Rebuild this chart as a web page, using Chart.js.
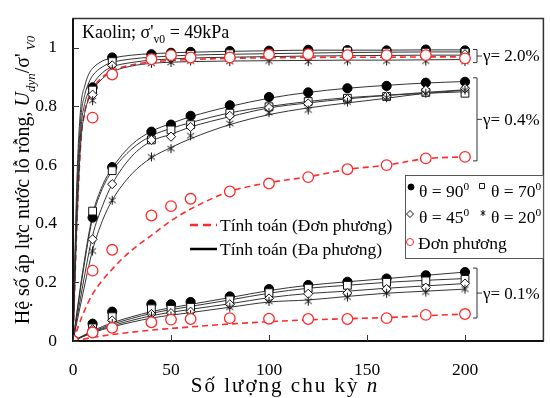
<!DOCTYPE html>
<html>
<head>
<meta charset="utf-8">
<script src="https://cdn.jsdelivr.net/npm/chart.js@4.4.1/dist/chart.umd.min.js"></script>
<style>
  html, body { margin: 0; padding: 0; background: #fff; }
  #wrap { width: 550px; height: 398px; }
</style>
</head>
<body>
<div id="wrap"><canvas id="chart"></canvas></div>
<script>
const serif = '"Liberation Serif", "Times New Roman", serif';
const cred = "#ff2a2a";
const cline = "#333333";

// measured points (number of cycles)
const cycles = [0, 10, 20, 40, 50, 60, 80, 100, 120, 140, 160, 180, 200];

// gamma = 2.0%
const g20_t90 = [0, 0.865, 0.967, 0.978, 0.983, 0.986, 0.989, 0.990, 0.993, 0.992, 0.991, 0.994, 0.991];
const g20_t70 = [0, 0.856, 0.953, 0.967, 0.975, 0.978, 0.980, 0.982, 0.983, 0.989, 0.985, 0.985, 0.984];
const g20_t45 = [0, 0.840, 0.940, 0.958, 0.965, 0.968, 0.970, 0.972, 0.973, 0.975, 0.975, 0.976, 0.978];
const g20_t20 = [0, 0.820, 0.928, 0.947, 0.950, 0.955, 0.953, 0.955, 0.953, 0.955, 0.955, 0.955, 0.953];
const g20_uni = [0, 0.762, 0.909, 0.961, 0.975, 0.967, 0.967, 0.977, 0.978, 0.975, 0.975, 0.975, 0.964];

// gamma = 0.4%
const g04_t90 = [0, 0.421, 0.593, 0.714, 0.738, 0.768, 0.804, 0.832, 0.848, 0.862, 0.870, 0.881, 0.884];
const g04_t70 = [0, 0.443, 0.581, 0.686, 0.720, 0.738, 0.777, 0.799, 0.817, 0.828, 0.834, 0.848, 0.845];
const g04_t45 = [0, 0.347, 0.535, 0.686, 0.697, 0.730, 0.768, 0.795, 0.810, 0.825, 0.835, 0.856, 0.862];
const g04_t20 = [0, 0.307, 0.480, 0.628, 0.656, 0.700, 0.742, 0.779, 0.788, 0.815, 0.830, 0.845, 0.856];
const g04_uni = [0, 0.240, 0.311, 0.428, 0.460, 0.485, 0.510, 0.537, 0.559, 0.586, 0.600, 0.623, 0.628];

// gamma = 0.1%
const g01_t90 = [0, 0.059, 0.100, 0.125, 0.125, 0.133, 0.152, 0.177, 0.191, 0.202, 0.213, 0.224, 0.235];
const g01_t70 = [0, 0.045, 0.083, 0.110, 0.108, 0.115, 0.140, 0.165, 0.180, 0.190, 0.200, 0.205, 0.210];
const g01_t45 = [0, 0.040, 0.070, 0.092, 0.095, 0.100, 0.125, 0.145, 0.161, 0.163, 0.177, 0.182, 0.196];
const g01_t20 = [0, 0.035, 0.060, 0.085, 0.085, 0.090, 0.115, 0.135, 0.136, 0.150, 0.163, 0.167, 0.177];
const g01_uni = [0, 0.029, 0.045, 0.064, 0.073, 0.075, 0.078, 0.076, 0.075, 0.075, 0.078, 0.089, 0.092];

// calculated curves
const calc20_n = [0, 2, 4, 6, 8, 10, 15, 20, 30, 40, 50, 60, 80, 100, 120, 140, 160, 180, 200];
const calc20_t90 = [0, 0.55, 0.80, 0.87, 0.91, 0.93, 0.955, 0.965, 0.975, 0.980, 0.983, 0.985, 0.988, 0.990, 0.992, 0.992, 0.992, 0.993, 0.993];
const calc20_t70 = [0, 0.50, 0.76, 0.84, 0.88, 0.905, 0.935, 0.950, 0.962, 0.968, 0.972, 0.975, 0.978, 0.980, 0.982, 0.984, 0.985, 0.986, 0.986];
const calc20_t45 = [0, 0.45, 0.72, 0.81, 0.85, 0.875, 0.915, 0.935, 0.950, 0.958, 0.962, 0.965, 0.968, 0.970, 0.972, 0.973, 0.974, 0.975, 0.975];
const calc20_t20 = [0, 0.40, 0.68, 0.78, 0.825, 0.855, 0.895, 0.918, 0.938, 0.947, 0.951, 0.953, 0.955, 0.956, 0.957, 0.958, 0.958, 0.959, 0.960];
const calc20_uni = [0, 0.40, 0.68, 0.78, 0.83, 0.86, 0.90, 0.922, 0.942, 0.952, 0.957, 0.960, 0.964, 0.966, 0.967, 0.968, 0.968, 0.969, 0.969];

const calc04_n = [0, 5, 10, 15, 20, 30, 40, 50, 60, 80, 100, 120, 140, 160, 180, 200];
const calc04_t90 = [0, 0.24, 0.43, 0.53, 0.59, 0.67, 0.715, 0.742, 0.765, 0.800, 0.828, 0.848, 0.862, 0.872, 0.880, 0.885];
const calc04_t70 = [0, 0.23, 0.42, 0.52, 0.58, 0.655, 0.700, 0.725, 0.745, 0.778, 0.800, 0.817, 0.830, 0.838, 0.845, 0.850];
const calc04_t45 = [0, 0.19, 0.36, 0.46, 0.535, 0.630, 0.682, 0.705, 0.730, 0.765, 0.795, 0.812, 0.826, 0.838, 0.848, 0.857];
const calc04_t20 = [0, 0.16, 0.31, 0.41, 0.48, 0.570, 0.625, 0.660, 0.690, 0.738, 0.772, 0.795, 0.812, 0.828, 0.845, 0.855];
const calc04_uni_n = [0, 5, 10, 20, 30, 40, 50, 60, 80, 100, 120, 140, 160, 180, 200];
const calc04_uni = [0, 0.09, 0.16, 0.245, 0.31, 0.36, 0.41, 0.45, 0.51, 0.54, 0.56, 0.585, 0.60, 0.622, 0.628];

const calc01_n = [0, 10, 20, 40, 60, 80, 100, 120, 140, 160, 180, 200];
const calc01_t90 = [0, 0.035, 0.062, 0.100, 0.125, 0.148, 0.172, 0.190, 0.202, 0.213, 0.224, 0.235];
const calc01_t70 = [0, 0.032, 0.057, 0.094, 0.118, 0.140, 0.163, 0.180, 0.190, 0.200, 0.207, 0.213];
const calc01_t45 = [0, 0.030, 0.052, 0.086, 0.108, 0.127, 0.148, 0.162, 0.170, 0.180, 0.188, 0.196];
const calc01_t20 = [0, 0.028, 0.048, 0.078, 0.097, 0.115, 0.133, 0.140, 0.152, 0.163, 0.170, 0.177];
const calc01_uni = [0, 0.012, 0.022, 0.037, 0.048, 0.058, 0.066, 0.072, 0.076, 0.080, 0.086, 0.092];

const xTicks = [0, 50, 100, 150, 200];
const yTicks = [0, 0.2, 0.4, 0.6, 0.8, 1];
const yTickLabels = ["0", "0.2", "0.4", "0.6", "0.8", "1"];
const gammaLabels = ["γ= 2.0%", "γ= 0.4%", "γ= 0.1%"];

function pts(xs, ys) {
  return xs.map((x, i) => ({ x: x, y: ys[i] }));
}

// three-stroke asterisk used for theta = 20
function asterisk(size) {
  const c = document.createElement("canvas");
  c.width = size; c.height = size;
  const g = c.getContext("2d");
  const h = size / 2, r = size / 2 - 1;
  g.strokeStyle = "#111";
  g.lineWidth = 1;
  g.beginPath();
  g.moveTo(h - r * 0.8, h - r * 0.6); g.lineTo(h + r * 0.8, h + r * 0.6);
  g.moveTo(h - r * 0.8, h + r * 0.6); g.lineTo(h + r * 0.8, h - r * 0.6);
  g.moveTo(h, h - r); g.lineTo(h, h + r);
  g.stroke();
  return c;
}
const starBig = asterisk(11);
const starSmall = asterisk(8);

const markerStyles = {
  t90: { pointStyle: "circle", pointRadius: 4.6, pointBackgroundColor: "#000", pointBorderColor: "#000", pointBorderWidth: 1 },
  t70: { pointStyle: "rect", pointRadius: 5.5, pointBackgroundColor: "#fff", pointBorderColor: "#111", pointBorderWidth: 1 },
  t45: { pointStyle: "rectRot", pointRadius: 4.6, pointBackgroundColor: "#fff", pointBorderColor: "#111", pointBorderWidth: 1 },
  t20: { pointStyle: starBig, pointRadius: 5, pointBackgroundColor: "#fff", pointBorderColor: "#111", pointBorderWidth: 1 },
  uni: { pointStyle: "circle", pointRadius: 5.3, pointBackgroundColor: "#fff", pointBorderColor: cred, pointBorderWidth: 1.3 },
};

function markers(ys, style) {
  return Object.assign({ data: pts(cycles, ys), showLine: false, order: 0 }, markerStyles[style]);
}

function curve(xs, ys, dashed) {
  return {
    data: pts(xs, ys),
    borderColor: dashed ? cred : cline,
    borderWidth: dashed ? 1.6 : 1,
    borderDash: dashed ? [6, 4] : [],
    pointRadius: 0,
    cubicInterpolationMode: "monotone",
    order: 1,
  };
}

const datasets = [
  curve(calc20_n, calc20_t90), curve(calc20_n, calc20_t70), curve(calc20_n, calc20_t45), curve(calc20_n, calc20_t20),
  curve(calc20_n, calc20_uni, true),
  curve(calc04_n, calc04_t90), curve(calc04_n, calc04_t70), curve(calc04_n, calc04_t45), curve(calc04_n, calc04_t20),
  curve(calc04_uni_n, calc04_uni, true),
  curve(calc01_n, calc01_t90), curve(calc01_n, calc01_t70), curve(calc01_n, calc01_t45), curve(calc01_n, calc01_t20),
  curve(calc01_n, calc01_uni, true),
  markers(g20_uni, "uni"), markers(g04_uni, "uni"), markers(g01_uni, "uni"),
  markers(g20_t20, "t20"), markers(g04_t20, "t20"), markers(g01_t20, "t20"),
  markers(g20_t45, "t45"), markers(g04_t45, "t45"), markers(g01_t45, "t45"),
  markers(g20_t70, "t70"), markers(g04_t70, "t70"), markers(g01_t70, "t70"),
  markers(g20_t90, "t90"), markers(g04_t90, "t90"), markers(g01_t90, "t90"),
];

// draws a run of text pieces, some italic / subscript / superscript
function richText(ctx, parts, x, y, size) {
  let cx = x;
  parts.forEach(p => {
    const s = (p.sub || p.sup) ? size * 0.65 : size;
    ctx.font = (p.italic ? "italic " : "") + s + "px " + serif;
    const dy = p.sub ? size * 0.28 : (p.sup ? -size * 0.38 : 0);
    ctx.fillText(p.t, cx, y + dy);
    cx += ctx.measureText(p.t).width;
  });
  return cx - x;
}

function richWidth(ctx, parts, size) {
  let w = 0;
  parts.forEach(p => {
    const s = (p.sub || p.sup) ? size * 0.65 : size;
    ctx.font = (p.italic ? "italic " : "") + s + "px " + serif;
    w += ctx.measureText(p.t).width;
  });
  return w;
}

const decorations = {
  id: "decorations",
  afterDraw(chart) {
    const ctx = chart.ctx;
    const a = chart.chartArea;
    const xs = chart.scales.x, ys = chart.scales.y;
    ctx.save();

    // frame
    ctx.strokeStyle = "#333";
    ctx.lineWidth = 1.5;
    ctx.strokeRect(a.left, a.top, a.right - a.left, a.bottom - a.top);
    ctx.lineWidth = 2;
    ctx.strokeStyle = "#111";
    ctx.beginPath();
    ctx.moveTo(a.left, a.top); ctx.lineTo(a.left, a.bottom); ctx.lineTo(a.right, a.bottom);
    ctx.stroke();

    // inward tick marks
    ctx.lineWidth = 1;
    ctx.strokeStyle = "#333";
    ctx.beginPath();
    yTicks.forEach(v => { const p = Math.round(ys.getPixelForValue(v)) + 0.5; ctx.moveTo(a.left, p); ctx.lineTo(a.left + 6, p); });
    xTicks.forEach(v => { const p = Math.round(xs.getPixelForValue(v)) + 0.5; ctx.moveTo(p, a.bottom); ctx.lineTo(p, a.bottom - 6); });
    ctx.stroke();

    ctx.fillStyle = "#000";
    ctx.textBaseline = "alphabetic";
    ctx.textAlign = "left";

    // y axis title
    const yTitle = [
      { t: "Hệ số áp lực nước lỗ rỗng, " },
      { t: "U", italic: true }, { t: "dyn", italic: true, sub: true },
      { t: "/σ'" }, { t: " V0", italic: true, sub: true },
    ];
    ctx.save();
    ctx.translate(29, 180);
    ctx.rotate(-Math.PI / 2);
    const yw = richWidth(ctx, yTitle, 20);
    richText(ctx, yTitle, -yw / 2, 0, 20);
    ctx.restore();

    // x axis title, slightly tracked out
    ctx.save();
    ctx.letterSpacing = "2px";
    const xTitle = [{ t: "Số lượng chu kỳ " }, { t: "n", italic: true }];
    const xw = richWidth(ctx, xTitle, 21);
    richText(ctx, xTitle, 285 - xw / 2, 392, 21);
    ctx.restore();

    // material note
    richText(ctx, [{ t: "Kaolin; σ'" }, { t: "v0", sub: true }, { t: " = 49kPa" }], a.left + 9, a.top + 19, 18);

    // group brackets at n = 200
    const groups = [
      [g20_t90, g20_t70, g20_t45, g20_t20, g20_uni],
      [g04_t90, g04_t70, g04_t45, g04_t20, g04_uni],
      [g01_t90, g01_t70, g01_t45, g01_t20, g01_uni],
    ];
    const pads = [1, 4, 4];
    const bx = xs.getPixelForValue(200) + 12;
    groups.forEach((g, i) => {
      const last = g.map(s => s[s.length - 1]);
      const top = ys.getPixelForValue(Math.max(...last)) - pads[i];
      const bot = ys.getPixelForValue(Math.min(...last)) + pads[i];
      const mid = (top + bot) / 2;
      ctx.strokeStyle = "#333";
      ctx.lineWidth = 1;
      ctx.beginPath();
      ctx.moveTo(bx - 4, top); ctx.lineTo(bx, top); ctx.lineTo(bx, bot); ctx.lineTo(bx - 4, bot);
      ctx.moveTo(bx, mid); ctx.lineTo(bx + 5, mid);
      ctx.stroke();
      ctx.font = "17px " + serif;
      ctx.textBaseline = "middle";
      ctx.fillText(gammaLabels[i], bx + 6, mid + 1);
      ctx.textBaseline = "alphabetic";
    });

    // line legend
    ctx.lineWidth = 2.5;
    ctx.strokeStyle = cred;
    ctx.setLineDash([8, 5]);
    ctx.beginPath(); ctx.moveTo(190, 225); ctx.lineTo(217, 225); ctx.stroke();
    ctx.setLineDash([]);
    ctx.strokeStyle = "#000";
    ctx.beginPath(); ctx.moveTo(190, 249); ctx.lineTo(217, 249); ctx.stroke();
    ctx.font = "17.5px " + serif;
    ctx.fillText("Tính toán (Đơn phương)", 220, 231);
    ctx.fillText("Tính toán (Đa phương)", 220, 255);

    // marker legend box
    ctx.fillStyle = "#fff";
    ctx.fillRect(405, 175, a.right - 405, 83);
    ctx.strokeStyle = "#555";
    ctx.lineWidth = 1;
    ctx.strokeRect(405.5, 175.5, a.right - 405.5, 83);
    const key = (style, x, y, r) => {
      const m = markerStyles[style];
      ctx.fillStyle = m.pointBackgroundColor;
      ctx.strokeStyle = m.pointBorderColor;
      ctx.lineWidth = 1;
      const ps = style === "t20" ? starSmall : m.pointStyle;
      Chart.helpers.drawPoint(ctx, { pointStyle: ps, radius: r, rotation: 0, borderWidth: 1 }, x, y);
    };
    key("t90", 411, 187, 3);
    key("t70", 482, 186, 3.5);
    key("t45", 410, 214, 3.5);
    key("t20", 483, 213, 3.5);
    key("uni", 410, 242, 3.5);
    ctx.fillStyle = "#000";
    const deg = (v) => [{ t: "θ = " + v }, { t: "0", sup: true }];
    richText(ctx, deg("90"), 419, 197, 17.5);
    richText(ctx, deg("70"), 491, 197, 17.5);
    richText(ctx, deg("45"), 419, 223, 17.5);
    richText(ctx, deg("20"), 491, 223, 17.5);
    ctx.font = "17.5px " + serif;
    ctx.fillText("Đơn phương", 418, 249);

    ctx.restore();
  }
};

new Chart(document.getElementById("chart"), {
  type: "line",
  data: { datasets: datasets },
  options: {
    responsive: true,
    maintainAspectRatio: false,
    animation: false,
    layout: { padding: { left: 0, right: 2, top: 8, bottom: 0 } },
    plugins: { legend: { display: false }, tooltip: { enabled: false } },
    scales: {
      x: {
        type: "linear",
        min: 0,
        max: 240,
        grid: { display: false },
        border: { display: false },
        afterBuildTicks: (s) => { s.ticks = xTicks.map(v => ({ value: v })); },
        afterFit: (s) => { s.height = 57; },
        ticks: { color: "#000", padding: 11, maxRotation: 0, font: { family: serif, size: 17.5 } },
      },
      y: {
        min: 0,
        max: 1.1,
        grid: { display: false },
        border: { display: false },
        afterBuildTicks: (s) => { s.ticks = yTicks.map(v => ({ value: v })); },
        afterFit: (s) => { s.width = 73; },
        ticks: {
          color: "#000",
          padding: 8,
          font: { family: serif, size: 17.5 },
          callback: (v, i) => yTickLabels[i],
        },
      },
    },
  },
  plugins: [decorations],
});
</script>
</body>
</html>
